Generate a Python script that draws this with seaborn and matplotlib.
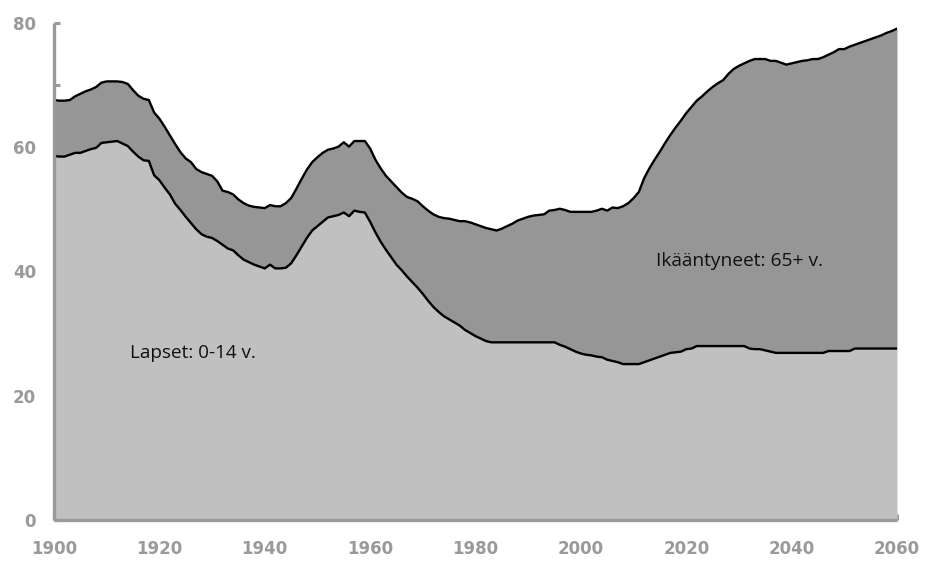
import numpy as np
import pandas as pd
import matplotlib
matplotlib.use("Agg")
import matplotlib.pyplot as plt
import seaborn as sns

years = list(range(1900, 2061))

children = [
    58.6, 58.5, 58.5, 58.8, 59.1, 59.1, 59.4, 59.7, 59.9, 60.7,   # 1900-1909
    60.8, 60.9, 61.0, 60.6, 60.2, 59.3, 58.5, 57.9, 57.8, 55.5,   # 1910-1919
    54.7, 53.5, 52.4, 50.9, 49.9, 48.8, 47.8, 46.8, 46.0, 45.6,   # 1920-1929
    45.4, 44.9, 44.3, 43.7, 43.4, 42.6, 41.9, 41.5, 41.1, 40.8,   # 1930-1939
    40.5, 41.1, 40.5, 40.5, 40.6, 41.3, 42.6, 44.0, 45.4, 46.6,   # 1940-1949
    47.3, 48.0, 48.7, 48.9, 49.1, 49.5, 48.9, 49.8, 49.6, 49.5,   # 1950-1959
    48.0, 46.3, 44.8, 43.5, 42.3, 41.1, 40.2, 39.2, 38.3, 37.4,   # 1960-1969
    36.4, 35.3, 34.3, 33.5, 32.8, 32.3, 31.8, 31.3, 30.6, 30.1,   # 1970-1979
    29.6, 29.2, 28.8, 28.6, 28.6, 28.6, 28.6, 28.6, 28.6, 28.6,   # 1980-1989
    28.6, 28.6, 28.6, 28.6, 28.6, 28.6, 28.2, 27.9, 27.5, 27.1,   # 1990-1999
    26.8, 26.6, 26.5, 26.3, 26.2, 25.8, 25.6, 25.4, 25.1, 25.1,   # 2000-2009
    25.1, 25.1, 25.4, 25.7, 26.0, 26.3, 26.6, 26.9, 27.0, 27.1,   # 2010-2019
    27.5, 27.6, 28.0, 28.0, 28.0, 28.0, 28.0, 28.0, 28.0, 28.0,   # 2020-2029
    28.0, 28.0, 27.6, 27.5, 27.5, 27.3, 27.1, 26.9, 26.9, 26.9,   # 2030-2039
    26.9, 26.9, 26.9, 26.9, 26.9, 26.9, 26.9, 27.2, 27.2, 27.2,   # 2040-2049
    27.2, 27.2, 27.6, 27.6, 27.6, 27.6, 27.6, 27.6, 27.6, 27.6,   # 2050-2059
    27.6,                                                         # 2060
]

total = [
    67.6, 67.5, 67.5, 67.6, 68.2, 68.6, 69.0, 69.3, 69.7, 70.4,   # 1900-1909
    70.6, 70.6, 70.6, 70.5, 70.2, 69.2, 68.3, 67.8, 67.6, 65.6,   # 1910-1919
    64.6, 63.3, 61.9, 60.5, 59.2, 58.2, 57.6, 56.5, 56.0, 55.7,   # 1920-1929
    55.4, 54.5, 53.0, 52.8, 52.4, 51.6, 51.0, 50.6, 50.4, 50.3,   # 1930-1939
    50.2, 50.7, 50.5, 50.5, 51.0, 51.8, 53.3, 54.9, 56.4, 57.6,   # 1940-1949
    58.4, 59.1, 59.6, 59.8, 60.1, 60.8, 60.1, 61.0, 61.0, 61.0,   # 1950-1959
    59.8, 58.0, 56.6, 55.4, 54.5, 53.6, 52.7, 52.0, 51.7, 51.3,   # 1960-1969
    50.5, 49.8, 49.2, 48.8, 48.6, 48.5, 48.3, 48.1, 48.1, 47.9,   # 1970-1979
    47.6, 47.3, 47.0, 46.8, 46.6, 46.9, 47.3, 47.7, 48.2, 48.5,   # 1980-1989
    48.8, 49.0, 49.1, 49.2, 49.8, 49.9, 50.1, 49.9, 49.6, 49.6,   # 1990-1999
    49.6, 49.6, 49.6, 49.8, 50.1, 49.8, 50.3, 50.2, 50.5, 51.0,   # 2000-2009
    51.8, 52.8, 55.0, 56.6, 58.0, 59.3, 60.7, 62.0, 63.2, 64.3,   # 2010-2019
    65.5, 66.5, 67.5, 68.2, 69.0, 69.7, 70.3, 70.8, 71.8, 72.6,   # 2020-2029
    73.1, 73.5, 73.9, 74.2, 74.2, 74.2, 73.9, 73.9, 73.6, 73.3,   # 2030-2039
    73.5, 73.7, 73.9, 74.0, 74.2, 74.2, 74.5, 74.9, 75.3, 75.8,   # 2040-2049
    75.8, 76.2, 76.5, 76.8, 77.1, 77.4, 77.7, 78.0, 78.4, 78.7,   # 2050-2059
    79.1,                                                         # 2060
]

x_ticks = [1900, 1920, 1940, 1960, 1980, 2000, 2020, 2040, 2060]
y_ticks = [0, 20, 40, 60, 80]
label_children = "Lapset: 0-14 v."
label_elderly = "Ikääntyneet: 65+ v."

df = pd.DataFrame({"year": years, "children": children, "total": total})

sns.set_theme(style="white")
plt.rcParams["font.family"] = ["Open Sans", "DejaVu Sans"]

fig = plt.figure(figsize=(9.35, 5.62), dpi=100)
ax = fig.add_axes([54 / 935, 1 - 520 / 562, (897 - 54) / 935, (520 - 23) / 562])

ax.fill_between(df["year"], 0, df["children"], color="#c0c0c0", linewidth=0)
ax.fill_between(df["year"], df["children"], df["total"], color="#969696", linewidth=0)
sns.lineplot(data=df, x="year", y="children", ax=ax, color="black", linewidth=1.7)
sns.lineplot(data=df, x="year", y="total", ax=ax, color="black", linewidth=1.7)

ax.set_xlim(1900, 2060)
ax.set_ylim(0, 80)
ax.set_xlabel("")
ax.set_ylabel("")

gray = "#9a9a9a"
for side in ["top", "right"]:
    ax.spines[side].set_visible(False)
for side in ["left", "bottom"]:
    ax.spines[side].set_color(gray)
    ax.spines[side].set_linewidth(2.4)
    ax.spines[side].set_capstyle("butt")

ax.set_xticks(x_ticks)
ax.set_xticks(list(range(1910, 2060, 20)), minor=True)
ax.set_yticks(y_ticks)
ax.set_yticks([10, 30, 50, 70], minor=True)
ax.set_xticklabels([str(v) for v in x_ticks])
ax.set_yticklabels([str(v) for v in y_ticks])

ax.tick_params(axis="both", which="both", direction="in", length=4, width=2.2,
               color=gray, bottom=True, left=True)
ax.tick_params(axis="x", which="major", pad=14.5, labelsize=12, labelcolor=gray)
ax.tick_params(axis="y", which="major", pad=13, labelsize=12, labelcolor=gray)
for lab in ax.get_xticklabels() + ax.get_yticklabels():
    lab.set_fontweight("bold")
    lab.set_family(["DejaVu Sans"])

ax.text(1914.5, 26.9, label_children, ha="left", va="center", fontsize=13.6, color="#111111")
ax.text(2014.3, 41.7, label_elderly, ha="left", va="center", fontsize=13.8, color="#111111")

fig.savefig("out.png", dpi=100)
